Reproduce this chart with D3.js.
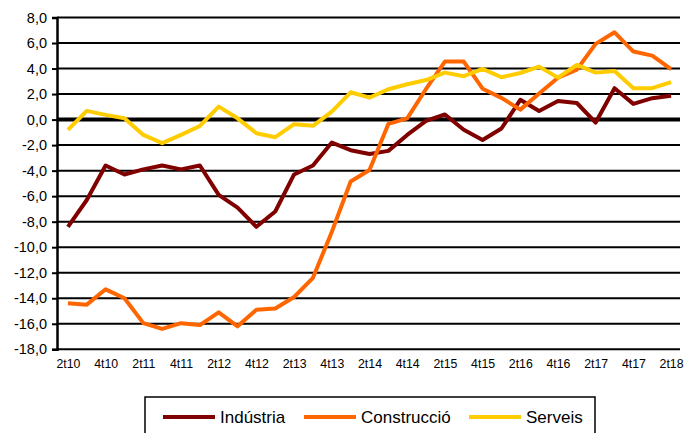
<!DOCTYPE html>
<html>
<head>
<meta charset="utf-8">
<script src="https://cdn.jsdelivr.net/npm/d3@7/dist/d3.min.js"></script>
<style>
  html, body { margin: 0; padding: 0; background: #fff; }
  svg { display: block; font-family: "Liberation Sans", Arial, sans-serif; }
</style>
</head>
<body>
<svg id="chart" width="685" height="433"></svg>
<script>
// Quarters 2t10 .. 2t18
const quarters = ["2t10","3t10","4t10","1t11","2t11","3t11","4t11","1t12","2t12","3t12","4t12","1t13","2t13","3t13","4t13","1t14","2t14","3t14","4t14","1t15","2t15","3t15","4t15","1t16","2t16","3t16","4t16","1t17","2t17","3t17","4t17","1t18","2t18"];
const industria = [-8.4,-6.3,-3.6,-4.3,-3.9,-3.6,-3.9,-3.6,-5.9,-6.9,-8.4,-7.2,-4.3,-3.6,-1.8,-2.4,-2.7,-2.45,-1.2,-0.1,0.4,-0.8,-1.6,-0.7,1.55,0.68,1.46,1.3,-0.23,2.46,1.23,1.68,1.86];
const construccio = [-14.4,-14.5,-13.3,-14.0,-15.95,-16.4,-15.95,-16.1,-15.1,-16.2,-14.9,-14.8,-13.9,-12.4,-8.8,-4.85,-3.95,-0.34,0.1,2.4,4.55,4.55,2.42,1.7,0.78,2.05,3.28,3.92,5.93,6.84,5.33,5.01,3.95];
const serveis = [-0.8,0.68,0.37,0.1,-1.2,-1.85,-1.2,-0.5,1.02,0.1,-1.07,-1.38,-0.36,-0.49,0.63,2.14,1.72,2.38,2.77,3.1,3.68,3.4,3.97,3.32,3.65,4.15,3.29,4.28,3.68,3.81,2.46,2.46,2.93];
const yTicks = [-18,-16,-14,-12,-10,-8,-6,-4,-2,0,2,4,6,8];
const seriesNames = ["Indústria","Construcció","Serveis"];
const seriesColors = ["#800000","#FF6600","#FFCC00"];

const svg = d3.select("#chart");
const pLeft = 57, pRight = 680, pTop = 17.5, pBottom = 349.3;

const x = d3.scalePoint().domain(quarters).range([58.5, 680.5]).padding(0.5);
const y = d3.scaleLinear().domain([-18, 8]).range([pBottom, pTop]);

// grid lines
svg.append("g").selectAll("line").data(yTicks).join("line")
  .attr("x1", pLeft).attr("x2", pRight)
  .attr("y1", d => y(d)).attr("y2", d => y(d))
  .attr("stroke", "#000")
  .attr("stroke-width", d => d === 0 ? 4 : 2);

// y axis
const yAxis = d3.axisLeft(y).tickValues(yTicks).tickSize(5).tickPadding(5)
  .tickFormat(d => d3.format(".1f")(d).replace(".", ",").replace("−","-"));
const gy = svg.append("g").attr("transform", `translate(${pLeft},0)`).call(yAxis);
gy.select(".domain").attr("stroke", "#000").attr("stroke-width", 2.5);
gy.selectAll(".tick line").attr("stroke", "#000").attr("stroke-width", 2);
gy.selectAll(".tick text").attr("font-size", 14.5).attr("fill", "#000")
  .attr("font-family", "Liberation Sans, Arial, sans-serif");

// x axis labels
const xAxis = d3.axisBottom(x).tickValues(quarters.filter(q => q[0] === "2" || q[0] === "4"))
  .tickSize(0).tickPadding(10);
const gx = svg.append("g").attr("transform", `translate(0,${pBottom})`).call(xAxis);
gx.select(".domain").remove();
gx.selectAll(".tick text").attr("font-size", 12.3).attr("fill", "#000")
  .attr("font-family", "Liberation Sans, Arial, sans-serif");

// lines
const line = d3.line().x((d, i) => x(quarters[i])).y(d => y(d));
[industria, construccio, serveis].forEach((s, k) => {
  svg.append("path").datum(s).attr("d", line)
    .attr("fill", "none").attr("stroke", seriesColors[k])
    .attr("stroke-width", 4).attr("stroke-linejoin", "round").attr("stroke-linecap", "butt");
});

// legend
svg.append("rect").attr("x", 145).attr("y", 397).attr("width", 450).attr("height", 60)
  .attr("fill", "#fff").attr("stroke", "#000").attr("stroke-width", 1.5);
const legX = [163, 304, 469];
seriesNames.forEach((n, k) => {
  const g = svg.append("g").attr("transform", `translate(${legX[k]},417)`);
  g.append("line").attr("x1", 0).attr("x2", 52).attr("stroke", seriesColors[k]).attr("stroke-width", 4);
  g.append("text").attr("x", 57).attr("y", 0).attr("dy", "0.35em")
    .attr("font-size", 17).attr("fill", "#000").text(n);
});
</script>
</body>
</html>
